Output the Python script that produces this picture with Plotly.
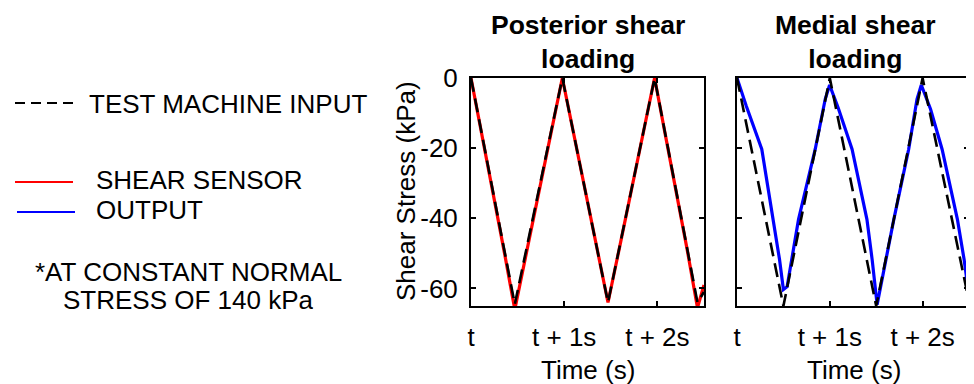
import plotly.graph_objects as go

# ---------------- data ----------------
# Posterior shear loading (left panel)
post_input_t = [0.0, 0.47, 0.98, 1.47, 1.97, 2.43, 2.50]
post_input_v = [0.0, -64.5, 0.0, -64.0, 0.0, -64.0, -61.0]
post_sensor_t = [0.0, 0.12, 0.24, 0.36, 0.47, 0.60, 0.73, 0.86, 0.98,
                 1.10, 1.22, 1.35, 1.47, 1.60, 1.72, 1.85, 1.97,
                 2.08, 2.20, 2.32, 2.43, 2.50]
post_sensor_v = [0.0, -16.5, -33.5, -50.0, -66.0, -49.5, -32.5, -15.5, 0.0,
                 -15.5, -31.5, -48.5, -64.0, -47.5, -32.0, -15.5, 0.0,
                 -15.5, -32.0, -49.0, -65.5, -59.0]

# Medial shear loading (right panel)
med_input_t = [0.0, 0.50, 1.00, 1.50, 2.00, 2.51]
med_input_v = [0.0, -65.0, 0.0, -65.0, 0.0, -65.0]
med_sensor_t = [0.0, 0.10, 0.267, 0.386, 0.458, 0.50, 0.54, 0.663, 0.843, 0.951, 0.998,
                1.09, 1.24, 1.40, 1.456, 1.51, 1.69, 1.85, 1.94, 1.986,
                2.086, 2.21, 2.375, 2.447, 2.51]
med_sensor_v = [0.0, -8.0, -20.3, -40.3, -51.7, -60.3, -59.5, -40.3, -20.3, -6.0, -2.0,
                -8.5, -20.3, -40.3, -51.7, -64.6, -40.3, -20.3, -6.0, -2.0,
                -8.9, -20.3, -40.3, -51.7, -64.0]

y_ticks = [0, -20, -40, -60]
y_tick_labels = ["0", "-20", "-40", "-60"]
x_ticks = [0, 1, 2]
x_tick_labels = ["t", "t + 1s", "t + 2s"]

panel_titles = ["Posterior shear<br>loading", "Medial shear<br>loading"]
legend_labels = ["TEST MACHINE INPUT", "SHEAR SENSOR", "OUTPUT"]
note_lines = ["*AT CONSTANT NORMAL", "STRESS OF 140 kPa"]

# ---------------- figure ----------------
OFF = 8  # page body margin
W, H = 974 - OFF, 384 - OFF
FONT = "Liberation Sans, Arial, sans-serif"
FS = 26
FSB = 26.5


def px_x(x):
    return (x - OFF) / W


def px_y(y):
    return 1 - (y - OFF) / H


fig = go.Figure()

fig.add_trace(go.Scatter(x=post_sensor_t, y=post_sensor_v, mode="lines",
                         line=dict(color="#ff0000", width=3.2), xaxis="x", yaxis="y",
                         showlegend=False))
fig.add_trace(go.Scatter(x=post_input_t, y=post_input_v, mode="lines",
                         line=dict(color="#000000", width=2.6, dash="14px,7px"),
                         xaxis="x", yaxis="y", showlegend=False))
fig.add_trace(go.Scatter(x=med_sensor_t, y=med_sensor_v, mode="lines",
                         line=dict(color="#0000ff", width=3.2), xaxis="x2", yaxis="y2",
                         showlegend=False))
fig.add_trace(go.Scatter(x=med_input_t, y=med_input_v, mode="lines",
                         line=dict(color="#000000", width=2.6, dash="14px,7px"),
                         xaxis="x2", yaxis="y2", showlegend=False))

y_dom = [px_y(306), px_y(78)]
common_x = dict(range=[0, 2.5], tickvals=x_ticks, ticktext=x_tick_labels,
                ticks="inside", ticklen=5, tickwidth=1.5, tickcolor="black",
                showline=True, linecolor="black", linewidth=2, mirror="ticks",
                showgrid=False, zeroline=False, ticklabelstandoff=7, automargin=False,
                tickfont=dict(family=FONT, size=FS, color="black"), fixedrange=True)
common_y = dict(range=[-65, 0], tickvals=y_ticks, ticktext=y_tick_labels,
                ticks="inside", ticklen=5, tickwidth=1.5, tickcolor="black",
                showline=True, linecolor="black", linewidth=2, mirror="ticks",
                showgrid=False, zeroline=False, automargin=False,
                tickfont=dict(family=FONT, size=FS, color="black"), fixedrange=True)

fig.update_layout(
    width=W, height=H, autosize=False,
    margin=dict(l=0, r=0, t=0, b=0, pad=0),
    paper_bgcolor="white", plot_bgcolor="white",
    xaxis=dict(domain=[px_x(471), px_x(704)], anchor="y", **common_x),
    xaxis2=dict(domain=[px_x(737), px_x(969)], anchor="y2", **common_x),
    yaxis=dict(domain=y_dom, anchor="x", ticklabelstandoff=6, **common_y),
    yaxis2=dict(domain=y_dom, anchor="x2", showticklabels=False, **common_y),
    showlegend=False,
)

ann = []
# panel titles
for cx, txt in [(588, panel_titles[0]), (855, panel_titles[1])]:
    ann.append(dict(x=px_x(cx), y=px_y(42), xref="paper", yref="paper",
                    text="<b>" + txt + "</b>", showarrow=False,
                    xanchor="center", yanchor="middle",
                    font=dict(family=FONT, size=FSB, color="black")))
# x axis titles
for cx in [588, 854]:
    ann.append(dict(x=px_x(cx), y=px_y(370), xref="paper", yref="paper",
                    text="Time (s)", showarrow=False, xanchor="center", yanchor="middle",
                    font=dict(family=FONT, size=FS, color="black")))
# y axis title
ann.append(dict(x=px_x(406), y=px_y(191), xref="paper", yref="paper",
                text="Shear Stress (kPa)", showarrow=False, textangle=-90,
                xanchor="center", yanchor="middle",
                font=dict(family=FONT, size=FS, color="black")))
# legend texts
for (lx, ly), txt in zip([(87, 104), (94, 180), (94, 210)], legend_labels):
    ann.append(dict(x=px_x(lx), y=px_y(ly), xref="paper", yref="paper",
                    text=txt, showarrow=False, xanchor="left", yanchor="middle",
                    font=dict(family=FONT, size=FS, color="black")))
for ly, txt in zip([272, 300], note_lines):
    ann.append(dict(x=px_x(188), y=px_y(ly), xref="paper", yref="paper",
                    text=txt, showarrow=False, xanchor="center", yanchor="middle",
                    height=26, valign="middle",
                    font=dict(family=FONT, size=FS, color="black")))
fig.update_layout(annotations=ann)

# legend line samples
shapes = [
    dict(type="line", xref="paper", yref="paper", x0=px_x(15), x1=px_x(73),
         y0=px_y(103), y1=px_y(103), line=dict(color="black", width=2, dash="10px,6px")),
    dict(type="line", xref="paper", yref="paper", x0=px_x(15), x1=px_x(73),
         y0=px_y(182), y1=px_y(182), line=dict(color="#ff0000", width=2)),
    dict(type="line", xref="paper", yref="paper", x0=px_x(17), x1=px_x(75),
         y0=px_y(212), y1=px_y(212), line=dict(color="#0000ff", width=2)),
]
fig.update_layout(shapes=shapes)

fig.write_html("out.html")
